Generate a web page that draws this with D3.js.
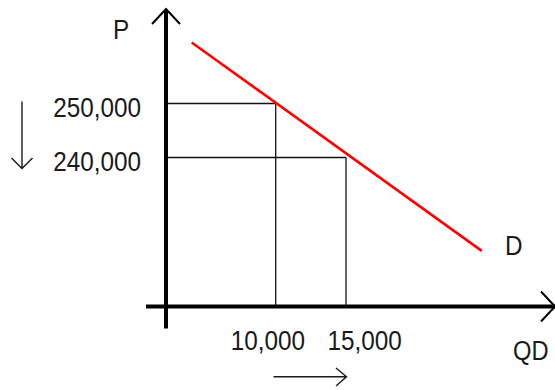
<!DOCTYPE html>
<html>
<head>
<meta charset="utf-8">
<script src="https://cdn.jsdelivr.net/npm/d3@7"></script>
<style>
  html, body { margin: 0; padding: 0; background: #fff; }
  svg { display: block; }
  text { font-family: "Liberation Sans", Arial, sans-serif; font-size: 27px; fill: #1a1a1a; }
</style>
</head>
<body>
<svg id="chart" width="555" height="390"></svg>
<script>
// Demand schedule: a price drop from 250,000 to 240,000 raises quantity demanded
const prices = [250000, 240000];
const quantities = [10000, 15000];
const priceLabels = ["250,000", "240,000"];
const quantityLabels = ["10,000", "15,000"];

// Demand curve end points (quantity, price)
const demandQ = [4030, 24650];
const demandP = [261300, 222700];

// Visible extent of the axes
const qExtent = [2200, 30000];
const pExtent = [212400, 267500];

const svg = d3.select("#chart");

const x = d3.scaleLinear().domain(qExtent).range([166, 557]);
const y = d3.scaleLinear().domain(pExtent).range([306.5, 9]);

const x0 = x(qExtent[0]);
const y0 = y(pExtent[0]);

// Guide lines from each price to the curve and down to the quantity axis
const guides = svg.append("g").attr("stroke", "#111").attr("stroke-width", 1.3).attr("fill", "none");
prices.forEach((p, i) => {
  const q = quantities[i];
  guides.append("line").attr("x1", x0).attr("x2", x(q)).attr("y1", y(p)).attr("y2", y(p));
  guides.append("line").attr("x1", x(q)).attr("x2", x(q)).attr("y1", y(p)).attr("y2", y0);
});

// Demand curve
svg.append("path")
  .datum(demandQ.map((q, i) => [q, demandP[i]]))
  .attr("fill", "none")
  .attr("stroke", "#ff0000")
  .attr("stroke-width", 2.6)
  .attr("d", d3.line().x(d => x(d[0])).y(d => y(d[1])));

// Axes with open arrowheads
const axes = svg.append("g").attr("stroke", "#000").attr("fill", "none");
axes.append("line").attr("x1", x0).attr("x2", x0).attr("y1", y(pExtent[1]) + 1).attr("y2", y0 + 22).attr("stroke-width", 4);
axes.append("line").attr("x1", x0 - 20).attr("x2", 555).attr("y1", y0).attr("y2", y0).attr("stroke-width", 4);
const tipY = y(pExtent[1]);
axes.append("path").attr("stroke-width", 2)
  .attr("d", `M${x0 - 14},${tipY + 15}L${x0},${tipY}L${x0 + 14},${tipY + 15}`);
const tipX = 555;
axes.append("path").attr("stroke-width", 2)
  .attr("d", `M${tipX - 14},${y0 - 15}L${tipX},${y0}L${tipX - 14},${y0 + 15}`);

// Squeeze glyphs horizontally a little
function squeeze(sel, k) {
  sel.each(function () {
    const w = this.getComputedTextLength();
    d3.select(this).attr("textLength", w * k).attr("lengthAdjust", "spacingAndGlyphs");
  });
  return sel;
}

// Price labels, right aligned against the guide lines
priceLabels.forEach((t, i) => {
  squeeze(svg.append("text")
    .attr("x", 141)
    .attr("y", y(prices[i]) + 14)
    .attr("text-anchor", "end")
    .text(t), 0.9);
});

// Quantity labels under the axis
const qLabelX = [x(quantities[0]) - 45, x(quantities[1]) - 18.5];
quantityLabels.forEach((t, i) => {
  squeeze(svg.append("text")
    .attr("x", qLabelX[i])
    .attr("y", 350)
    .text(t), 0.9);
});

// Axis titles and curve label
squeeze(svg.append("text").attr("x", 113).attr("y", 38.5).text("P"), 0.9);
squeeze(svg.append("text").attr("x", 513).attr("y", 360).text("QD"), 0.88);
squeeze(svg.append("text").attr("x", 505).attr("y", 255).text("D"), 0.9);

// Direction arrows: price falls, quantity rises
const dir = svg.append("g").attr("stroke", "#1a1a1a").attr("stroke-width", 1.4).attr("fill", "none");
dir.append("path").attr("d", "M22,101.5L22,168.5M11.5,158L22,168.5L32.5,158");
dir.append("path").attr("d", "M273.5,376.7L346.5,376.7M336,368L346.5,376.7L336,386");
</script>
</body>
</html>
